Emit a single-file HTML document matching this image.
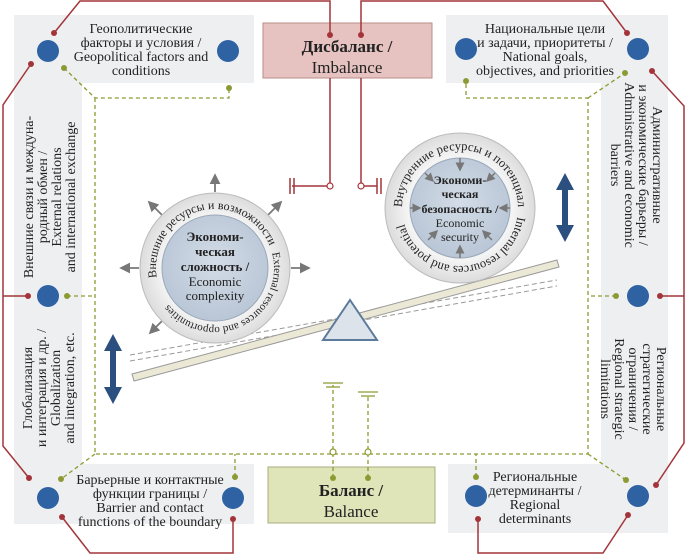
<!DOCTYPE html>
<html><head><meta charset="utf-8"><style>
html,body{margin:0;padding:0;background:#fff}
svg{display:block}
text{font-family:"Liberation Serif","Noto Serif CJK SC",serif;fill:#222}
</style></head><body>
<svg width="686" height="556" viewBox="0 0 686 556" xmlns="http://www.w3.org/2000/svg">
<defs>
<radialGradient id="ring" cx="50%" cy="50%" r="50%"><stop offset="70%" stop-color="#f4f4f4"/><stop offset="100%" stop-color="#dcdcdc"/></radialGradient>
<radialGradient id="core" cx="50%" cy="45%" r="55%"><stop offset="0%" stop-color="#d3dce7"/><stop offset="100%" stop-color="#b9c6d6"/></radialGradient>
<marker id="ga" markerWidth="6" markerHeight="6" refX="5" refY="3" orient="auto"><path d="M0,0 L6,3 L0,6 z" fill="#777"/></marker>
<path id="pl" d="M163.9,297.5 A59,59 0 1 1 266.1,238.5 A59,59 0 1 1 163.9,297.5"/>
<path id="pr" d="M402,208 A58,58 0 1 1 518,208 A58,58 0 1 1 402,208"/>
</defs>
<g fill="#eeeff1">
<rect x="14" y="15" width="240" height="68"/>
<rect x="14" y="15" width="68" height="509"/>
<rect x="14" y="464" width="240" height="60"/>
<rect x="446" y="15" width="222" height="68"/>
<rect x="601" y="15" width="67" height="518"/>
<rect x="448" y="464" width="220" height="69"/>
</g>
<rect x="263" y="23" width="169" height="55" fill="#e6c3c1" stroke="#b98d8a"/>
<text x="347" y="52" font-size="17" font-weight="bold" text-anchor="middle">Дисбаланс /</text>
<text x="347" y="73" font-size="17" text-anchor="middle">Imbalance</text>
<rect x="268" y="467" width="167" height="56" fill="#dfe5b9" stroke="#a8ad7d"/>
<text x="351" y="496" font-size="17" font-weight="bold" text-anchor="middle">Баланс /</text>
<text x="351" y="517" font-size="17" text-anchor="middle">Balance</text>

<g fill="none" stroke="#8d9a33" stroke-width="1.3" stroke-dasharray="4,3">
<path d="M64,68 L95,98 L229,98 L229,88"/>
<path d="M95,98 L95,454 L588,454 L588,98 L466,98 L466,81"/>
<path d="M588,98 L625,73"/>
<path d="M67,296 L95,296"/>
<path d="M616,296 L588,296"/>
<path d="M95,454 L61,479"/>
<path d="M235,477 L235,454"/>
<path d="M588,454 L626,480"/>
<path d="M476,477 L476,454"/>
<path d="M333,478 L333,385"/>
<path d="M368,478 L368,394"/>
</g>
<g stroke="#8d9a33" stroke-width="1.3"><line x1="323" y1="383" x2="343" y2="383"/><line x1="326" y1="387" x2="340" y2="387"/><line x1="358" y1="392" x2="378" y2="392"/><line x1="361" y1="396" x2="375" y2="396"/></g>
<g fill="#fff" stroke="#8d9a33" stroke-width="1.2"><circle cx="333" cy="452" r="3"/><circle cx="368" cy="452" r="3"/></g>
<g fill="#8d9a33"><circle cx="64" cy="68" r="3"/><circle cx="229" cy="88" r="3"/><circle cx="466" cy="81" r="3"/><circle cx="625" cy="73" r="3"/><circle cx="67" cy="296" r="3"/><circle cx="616" cy="296" r="3"/><circle cx="61" cy="479" r="3"/><circle cx="235" cy="477" r="3"/><circle cx="626" cy="480" r="3"/><circle cx="476" cy="477" r="3"/><circle cx="333" cy="478" r="3"/><circle cx="368" cy="478" r="3"/></g>

<g fill="none" stroke="#a3353a" stroke-width="1.5">
<path d="M54,33 L80,1 L330,1 L330,35"/>
<path d="M330,78 L330,186 L292,186"/>
<path d="M361,35 L361,1 L603,1 L627,33"/>
<path d="M361,78 L361,186 L377,186"/>
<path d="M31,64 L3,105 L3,446 L29,478"/>
<path d="M28,296 L3,296"/>
<path d="M652,71 L684,106 L684,443 L656,485"/>
<path d="M660,296 L684,296"/>
<path d="M62,517 L90,553 L233,553 L233,519"/>
<path d="M478,519 L478,553 L603,553 L628,515"/>
<path d="M290,178 L290,194 M294,178 L294,194 M377,178 L377,194 M381,178 L381,194"/>
</g>
<g fill="#fff" stroke="#a3353a" stroke-width="1.2"><circle cx="330" cy="186" r="3"/><circle cx="361" cy="186" r="3"/></g>
<g fill="#a3353a"><circle cx="54" cy="33" r="3"/><circle cx="330" cy="35" r="3"/><circle cx="361" cy="35" r="3"/><circle cx="627" cy="33" r="3"/><circle cx="31" cy="64" r="3"/><circle cx="29" cy="478" r="3"/><circle cx="28" cy="296" r="3"/><circle cx="652" cy="71" r="3"/><circle cx="656" cy="485" r="3"/><circle cx="660" cy="296" r="3"/><circle cx="62" cy="517" r="3"/><circle cx="233" cy="519" r="3"/><circle cx="478" cy="519" r="3"/><circle cx="628" cy="515" r="3"/></g>

<g fill="#2f62a3"><circle cx="48" cy="51" r="11"/><circle cx="228" cy="51" r="11"/><circle cx="466" cy="49" r="11"/><circle cx="638" cy="49" r="11"/><circle cx="48" cy="296" r="11"/><circle cx="638" cy="296" r="11"/><circle cx="48" cy="498" r="11"/><circle cx="233" cy="498" r="11"/><circle cx="476" cy="496" r="11"/><circle cx="638" cy="496" r="11"/></g>

<g font-size="14" text-anchor="middle">
<text x="141" y="33">Геополитические</text><text x="141" y="47">факторы и условия /</text><text x="141" y="61">Geopolitical factors and</text><text x="141" y="75">conditions</text>
<text x="545" y="33">Национальные цели</text><text x="545" y="47">и задачи, приоритеты /</text><text x="545" y="61">National goals,</text><text x="545" y="75">objectives, and priorities</text>
<text x="150" y="484">Барьерные и контактные</text><text x="150" y="498">функции границы /</text><text x="150" y="512">Barrier and contact</text><text x="150" y="526">functions of the boundary</text>
<text x="535" y="481">Региональные</text><text x="535" y="495">детерминанты /</text><text x="535" y="509">Regional</text><text x="535" y="523">determinants</text>
</g>
<g font-size="14" text-anchor="middle" transform="translate(48,197) rotate(-90)">
<text x="0" y="-15">Внешние связи и междуна-</text><text x="0" y="-1">родный обмен /</text><text x="0" y="13">External relations</text><text x="0" y="27">and international exchange</text>
</g>
<g font-size="14" text-anchor="middle" transform="translate(48,388) rotate(-90)">
<text x="0" y="-16">Глобализация</text><text x="0" y="-2">и интеграция и др. /</text><text x="0" y="12">Globalization</text><text x="0" y="26">and integration, etc.</text>
</g>
<g font-size="14" text-anchor="middle" transform="translate(636,165) rotate(90)">
<text x="0" y="-17">Административные</text><text x="0" y="-3">и экономические барьеры /</text><text x="0" y="11">Administrative and economic</text><text x="0" y="25">barriers</text>
</g>
<g font-size="14" text-anchor="middle" transform="translate(634,389) rotate(90)">
<text x="0" y="-23">Региональные</text><text x="0" y="-9">стратегические</text><text x="0" y="5">ограничения /</text><text x="0" y="19">Regional strategic</text><text x="0" y="33">limitations</text>
</g>

<g stroke="#999" stroke-width="1" stroke-dasharray="5,3" fill="none">
<path d="M130,355 L557,280"/><path d="M130,361 L557,286"/>
</g>
<path d="M132,374 L557,260 L559,267 L134,381 Z" fill="#ebe9d6" stroke="#999"/>
<path d="M350,300 L377,340 L323,340 Z" fill="#dde3ea" stroke="#5c7a9c" stroke-width="2"/>

<g stroke="#777" stroke-width="1.8" marker-end="url(#ga)">
<line x1="215" y1="192" x2="215" y2="175"/>
<line x1="268" y1="215" x2="281" y2="202"/>
<line x1="162" y1="215" x2="149" y2="202"/>
<line x1="139" y1="268" x2="121" y2="268"/>
<line x1="291" y1="268" x2="309" y2="268"/>
<line x1="162" y1="321" x2="150" y2="333"/>
</g>
<circle cx="215" cy="268" r="75" fill="url(#ring)" stroke="#bbb"/>
<circle cx="215" cy="268" r="53" fill="url(#core)" stroke="#9aa8b8"/>
<text font-size="12"><textPath href="#pl" startOffset="29%" text-anchor="middle">Внешние ресурсы и возможности</textPath></text>
<text font-size="11"><textPath href="#pl" startOffset="76%" text-anchor="middle">External resources and opportunities</textPath></text>
<g font-size="13" text-anchor="middle">
<text x="215" y="241" font-weight="bold">Экономи-</text><text x="215" y="256" font-weight="bold">ческая</text><text x="215" y="271" font-weight="bold">сложность /</text><text x="215" y="286">Economic</text><text x="215" y="300">complexity</text>
</g>

<circle cx="460" cy="208" r="75" fill="url(#ring)" stroke="#bbb"/>
<circle cx="460" cy="208" r="50" fill="url(#core)" stroke="#9aa8b8"/>
<text font-size="12.5"><textPath href="#pr" startOffset="25%" text-anchor="middle">Внутренние ресурсы и потенциал</textPath></text>
<text font-size="12.5"><textPath href="#pr" startOffset="74%" text-anchor="middle">Internal resources and potential</textPath></text>
<g stroke="#777" stroke-width="1.5" marker-end="url(#ga)">
<line x1="460" y1="158" x2="460" y2="170"/>
<line x1="425" y1="173" x2="433" y2="181"/>
<line x1="495" y1="173" x2="487" y2="181"/>
<line x1="410" y1="208" x2="420" y2="208"/>
<line x1="510" y1="208" x2="500" y2="208"/>
<line x1="428" y1="240" x2="437" y2="231"/>
<line x1="492" y1="240" x2="483" y2="231"/>
<line x1="460" y1="258" x2="460" y2="246"/>
</g>
<g font-size="12" text-anchor="middle">
<text x="460" y="184" font-weight="bold">Экономи-</text><text x="460" y="198" font-weight="bold">ческая</text><text x="460" y="213" font-weight="bold">безопасность /</text><text x="460" y="227">Economic</text><text x="460" y="241">security</text>
</g>

<g fill="#2b4f7e">
<path d="M565,173 L574,190 L568,190 L568,225 L574,225 L565,242 L556,225 L562,225 L562,190 L556,190 Z"/>
<path d="M113,334 L122,351 L116,351 L116,387 L122,387 L113,404 L104,387 L110,387 L110,351 L104,351 Z"/>
</g>
</svg>
</body></html>
